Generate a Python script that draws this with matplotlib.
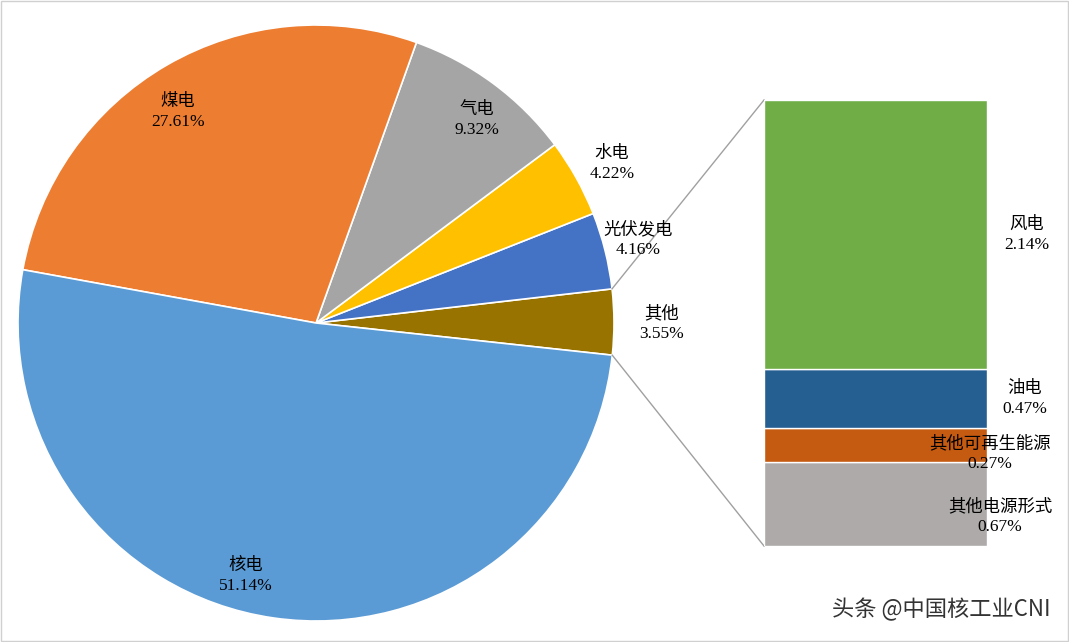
import matplotlib
matplotlib.use("Agg")
import matplotlib.pyplot as plt
from matplotlib.patches import Rectangle
import numpy as np

pie_labels = ["其他", "光伏发电", "水电", "气电", "煤电", "核电"]
pie_values = [3.55, 4.16, 4.22, 9.32, 27.61, 51.14]
pie_colors = ["#997300", "#4472C4", "#FFC000", "#A5A5A5", "#ED7D31", "#5B9BD5"]
pie_label_pos = [(662, 324), (638, 240), (612, 164), (477, 120), (178, 112), (246, 576)]

bar_labels = ["其他电源形式", "其他可再生能源", "油电", "风电"]
bar_values = [0.67, 0.27, 0.47, 2.14]
bar_colors = ["#AEAAAA", "#C55A11", "#255E91", "#70AD47"]
bar_label_pos = [(1000, 517), (990, 454), (1025, 399), (1027, 235)]

W, H = 1069, 642
fig = plt.figure(figsize=(W/100, H/100), dpi=100)
fig.patch.set_facecolor("white")
ax = fig.add_axes([0, 0, 1, 1])
ax.set_xlim(0, W); ax.set_ylim(0, H); ax.set_aspect("equal"); ax.axis("off")
ax.add_patch(Rectangle((1, 1), W-2, H-2, fill=False, ec="#D0D0D0", lw=1))

cx, cy, r = 316, H-323, 298
start = -6.2
ax.pie(pie_values, colors=pie_colors, startangle=start, counterclock=True,
       center=(cx, cy), radius=r, wedgeprops=dict(ec="white", lw=1.2), frame=True)
ax.set_xlim(0, W); ax.set_ylim(0, H); ax.axis("off")

fam = ["Liberation Serif", "Noto Sans CJK SC"]
for lab, v, (x, y) in zip(pie_labels, pie_values, pie_label_pos):
    fig.text(x/W, 1-y/H, f"{lab}\n{v:.2f}%", ha="center", va="center", fontsize=12.5,
             family=fam, linespacing=1.3, zorder=10)

# bar
bx0, bx1, by0, by1 = 764, 987, 100, 546
bax = fig.add_axes([bx0/W, 1-by1/H, (bx1-bx0)/W, (by1-by0)/H])
bottom = 0
for v, c in zip(bar_values, bar_colors):
    bax.bar(0, v, bottom=bottom, width=1, color=c, ec="white", lw=1.0)
    bottom += v
bax.set_xlim(-0.5, 0.5); bax.set_ylim(0, sum(bar_values)); bax.axis("off")
for lab, v, (x, y) in zip(bar_labels, bar_values, bar_label_pos):
    fig.text(x/W, 1-y/H, f"{lab}\n{v:.2f}%", ha="center", va="center", fontsize=12.5,
             family=fam, linespacing=1.3, zorder=10)

# connection lines
t1 = np.deg2rad(start + pie_values[0]/100*360)
t0 = np.deg2rad(start)
ax.plot([cx + r*np.cos(t1), bx0], [cy + r*np.sin(t1), H-by0], color="#A0A0A0", lw=1)
ax.plot([cx + r*np.cos(t0), bx0], [cy + r*np.sin(t0), H-by1], color="#A0A0A0", lw=1)

fig.text(1050/W, 1-610/H, "头条 @中国核工业CNI", ha="right", va="center", fontsize=16,
         family=["Noto Sans CJK SC", "DejaVu Sans"], color="#333333", zorder=10)

fig.savefig("out.png", dpi=100)
